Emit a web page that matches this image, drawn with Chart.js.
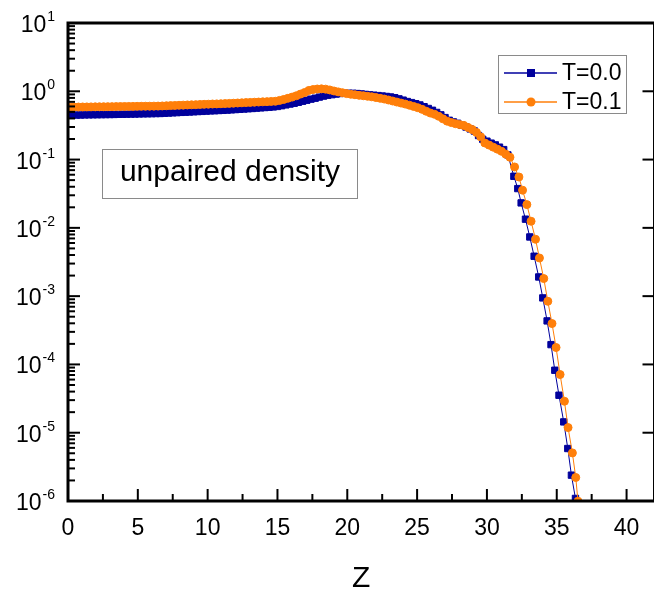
<!DOCTYPE html>
<html>
<head>
<meta charset="utf-8">
<style>
  html, body { margin: 0; padding: 0; background: #fff; overflow: hidden; }
  #wrap { width: 660px; height: 590px; }
</style>
</head>
<body>
<div id="wrap"><canvas id="myChart" width="660" height="590"></canvas></div>
<script src="https://cdn.jsdelivr.net/npm/chart.js@4.4.2/dist/chart.umd.min.js"></script>
<script>
// T=0.0 : z positions and unpaired density
const zT00 = [0,0.3,0.6,0.9,1.2,1.5,1.8,2.1,2.4,2.7,3,3.3,3.6,3.9,4.2,4.5,4.8,5.1,5.4,5.7,6,6.3,6.6,6.9,7.2,7.5,7.8,8.1,8.4,8.7,9,
  9.3,9.6,9.9,10.2,10.5,10.8,11.1,11.4,11.7,12,12.3,12.6,12.9,13.2,13.5,13.8,14.1,14.4,14.7,15,15.3,15.6,15.9,16.2,16.5,16.8,17.1,
  17.4,17.7,18,18.3,18.6,18.9,19.2,19.5,19.8,20.1,20.4,20.7,21,21.3,21.6,21.9,22.2,22.5,22.8,23.1,23.4,23.7,24,24.3,24.6,24.9,25.2,
  25.5,25.8,26.1,26.4,26.7,27,27.3,27.6,27.9,28.2,28.5,28.8,29.1,29.4,29.7,30,30.3,30.6,30.9,31.2,31.5,
  31.93,32.21,32.45,32.76,33.07,33.38,33.71,34.0,34.31,34.59,34.86,35.16,35.5,35.79,36.05,36.34];
const nT00 = [0.447,0.448,0.449,0.450,0.451,0.452,0.453,0.454,0.455,0.456,0.457,
  0.458,0.460,0.461,0.462,0.464,0.465,0.466,0.468,0.469,0.470,0.472,0.473,
  0.477,0.480,0.484,0.487,0.491,0.494,0.498,0.501,
  0.505,0.508,0.512,0.516,0.519,0.523,0.526,0.530,
  0.535,0.540,0.545,0.550,0.555,
  0.560,0.566,0.572,0.578,0.584,0.590,
  0.600,0.615,0.632,0.650,
  0.668,0.690,0.715,0.740,
  0.767,0.792,0.822,0.850,
  0.876,0.892,0.910,0.928,
  0.935,0.935,0.934,
  0.927,0.915,0.900,
  0.888,0.876,0.865,0.852,0.840,0.826,
  0.805,0.775,0.742,0.708,
  0.683,0.658,0.631,
  0.595,0.560,0.527,
  0.490,0.452,0.412,0.376,
  0.356,0.340,0.318,0.300,
  0.281,0.262,0.225,0.198,0.186,0.174,0.164,0.152,0.140,0.117,
  0.0569,0.0376,0.0232,0.0134,0.00736,0.00384,0.00191,9.42e-4,4.34e-4,1.95e-4,8.22e-5,3.54e-5,1.44e-5,5.87e-6,2.39e-6,1.09e-6];

// T=0.1 : z positions and unpaired density
const zT01 = [0.15,0.45,0.75,1.05,1.35,1.65,1.95,2.25,2.55,2.85,3.15,3.45,3.75,4.05,4.35,4.65,4.95,5.25,5.55,5.85,6.15,6.45,
  6.75,7.05,7.35,7.65,7.95,8.25,8.55,8.85,9.15,9.45,9.75,10.05,10.35,10.65,10.95,11.25,11.55,11.85,12.15,12.45,12.75,13.05,
  13.35,13.65,13.95,14.25,14.55,14.85,15.15,15.45,15.75,16.05,16.35,16.65,16.95,17.25,17.55,17.85,18.15,18.45,18.75,19.05,
  19.35,19.65,19.95,20.25,20.55,20.85,21.15,21.45,21.75,22.05,22.35,22.65,22.95,23.25,23.55,23.85,24.15,24.45,24.75,25.05,
  25.35,25.65,25.95,26.25,26.55,26.85,27.15,27.45,27.75,28.05,28.35,28.65,28.95,29.25,29.55,29.85,30.15,30.45,30.75,31.05,
  31.35,31.65,
  31.98,32.29,32.55,32.86,33.16,33.48,33.76,34.07,34.36,34.66,34.95,35.24,35.55,35.81,36.12,36.36,36.52];
const nT01 = [0.586,0.587,0.588,0.589,0.590,0.591,0.592,0.593,0.594,0.595,0.596,0.597,0.598,0.599,0.600,0.601,0.602,0.603,0.604,0.605,0.606,0.607,
  0.610,0.614,0.617,0.620,0.624,0.627,0.631,0.634,0.637,0.641,0.644,0.647,0.651,0.654,0.657,0.660,
  0.665,0.669,0.674,0.678,0.683,0.687,0.692,0.696,0.701,0.705,0.710,0.714,
  0.735,0.760,0.790,0.822,
  0.860,0.910,0.960,1.030,
  1.060,1.080,
  1.085,1.075,
  1.045,1.010,0.980,
  0.953,0.925,0.905,0.890,0.873,
  0.860,
  0.845,0.830,0.810,0.790,
  0.770,0.745,0.720,0.695,
  0.672,0.650,0.625,0.600,
  0.575,0.545,0.510,0.480,
  0.460,0.430,0.395,0.365,
  0.348,0.335,0.325,0.315,
  0.295,0.275,
  0.250,0.215,0.175,
  0.163,0.152,0.142,
  0.132,0.120,0.108,
  0.078,0.0556,0.0356,0.0219,0.0125,0.00681,0.00362,0.00181,8.41e-4,3.97e-4,1.77e-4,7.11e-5,2.89e-5,1.19e-5,5.06e-6,2.21e-6,9.93e-7];

const xTickValues = [0, 5, 10, 15, 20, 25, 30, 35, 40];
const yExponents = [1, 0, -1, -2, -3, -4, -5, -6];
const seriesNames = ['T=0.0', 'T=0.1'];

const BLUE = '#00009c';
const ORANGE = '#ff7f0a';
const FONT = '"Liberation Sans", Arial, sans-serif';

function toPoints(xs, ys) {
    return ys.map((v, i) => ({ x: xs[i], y: v }));
}

function seg(ctx, x1, y1, x2, y2) {
    ctx.beginPath();
    ctx.moveTo(x1, y1);
    ctx.lineTo(x2, y2);
    ctx.stroke();
}

// frame, inward ticks, tick labels, legend and the text box
const framePlugin = {
    id: 'framePlugin',
    afterDraw(chart) {
        const { ctx, chartArea: a } = chart;
        const xs = chart.scales.x, ys = chart.scales.y;
        ctx.save();
        ctx.strokeStyle = '#000';
        ctx.fillStyle = '#000';

        // x ticks
        ctx.lineWidth = 2;
        xTickValues.forEach(v => {
            const px = xs.getPixelForValue(v);
            seg(ctx, px, a.bottom, px, a.bottom - 12);
            const pm = xs.getPixelForValue(v + 2.5);
            if (pm < a.right) seg(ctx, pm, a.bottom, pm, a.bottom - 7);
        });

        // y ticks (log decades + minors)
        yExponents.forEach(e => {
            const py = ys.getPixelForValue(Math.pow(10, e));
            seg(ctx, a.left, py, a.left + 12, py);
            seg(ctx, a.right, py, a.right - 12, py);
            if (e < 1) {
                for (let m = 2; m <= 9; m++) {
                    const pm = ys.getPixelForValue(m * Math.pow(10, e));
                    seg(ctx, a.left, pm, a.left + 7, pm);
                }
            }
        });

        // box
        ctx.lineWidth = 3;
        ctx.strokeRect(a.left, a.top, a.right - a.left, a.bottom - a.top);

        // x labels
        ctx.font = '23px ' + FONT;
        ctx.textAlign = 'center';
        ctx.textBaseline = 'alphabetic';
        xTickValues.forEach(v => {
            ctx.fillText(String(v), xs.getPixelForValue(v), a.bottom + 34);
        });

        // y labels: 10 with superscript exponent
        yExponents.forEach(e => {
            const py = ys.getPixelForValue(Math.pow(10, e));
            const sup = String(e);
            ctx.font = '14px ' + FONT;
            const wSup = ctx.measureText(sup).width;
            ctx.textAlign = 'left';
            ctx.fillText(sup, 55 - wSup, py - 2);
            ctx.font = '23px ' + FONT;
            ctx.textAlign = 'right';
            ctx.fillText('10', 55 - wSup - 1, py + 9);
        });

        // axis title
        ctx.font = '30px ' + FONT;
        ctx.textAlign = 'center';
        ctx.fillText('Z', (a.left + a.right) / 2, 587);

        // legend
        ctx.lineWidth = 1;
        ctx.strokeStyle = '#8a8a8a';
        ctx.strokeRect(498.5, 55.5, 128, 58);
        const rows = [{ y: 73, c: BLUE, shape: 'rect' }, { y: 102, c: ORANGE, shape: 'circle' }];
        rows.forEach((r, i) => {
            ctx.strokeStyle = r.c;
            ctx.fillStyle = r.c;
            ctx.lineWidth = 1.5;
            seg(ctx, 504, r.y, 557, r.y);
            if (r.shape === 'rect') {
                ctx.fillRect(527, r.y - 4, 8, 8);
            } else {
                ctx.beginPath();
                ctx.arc(531, r.y, 4.5, 0, Math.PI * 2);
                ctx.fill();
            }
            ctx.fillStyle = '#000';
            ctx.font = '23px ' + FONT;
            ctx.textAlign = 'left';
            ctx.textBaseline = 'middle';
            ctx.fillText(seriesNames[i], 562, r.y + 1);
        });

        // label box
        ctx.strokeStyle = '#8a8a8a';
        ctx.lineWidth = 1;
        ctx.strokeRect(102.5, 149.5, 255, 49);
        ctx.fillStyle = '#000';
        ctx.font = '30px ' + FONT;
        ctx.textAlign = 'center';
        ctx.textBaseline = 'middle';
        ctx.fillText('unpaired density', 230, 173);

        ctx.restore();
    }
};

const data = {
    datasets: [
        {
            label: seriesNames[0],
            data: toPoints(zT00, nT00),
            borderColor: BLUE,
            backgroundColor: BLUE,
            borderWidth: 1,
            pointStyle: 'rect',
            pointRadius: 4.5,
            pointBorderWidth: 1,
            clip: 0,
            order: 2
        },
        {
            label: seriesNames[1],
            data: toPoints(zT01, nT01),
            borderColor: ORANGE,
            backgroundColor: ORANGE,
            borderWidth: 1,
            pointStyle: 'circle',
            pointRadius: 4,
            pointBorderWidth: 1,
            clip: 0,
            order: 1
        }
    ]
};

const config = {
    type: 'line',
    data,
    options: {
        responsive: false,
        animation: false,
        layout: { padding: { left: 68, right: 4, top: 23, bottom: 89 } },
        plugins: {
            legend: { display: false },
            tooltip: { enabled: false }
        },
        scales: {
            x: { type: 'linear', min: 0, max: 42, display: false },
            y: { type: 'logarithmic', min: 1e-6, max: 10, display: false }
        }
    },
    plugins: [framePlugin]
};

new Chart(document.getElementById('myChart'), config);
</script>
</body>
</html>
